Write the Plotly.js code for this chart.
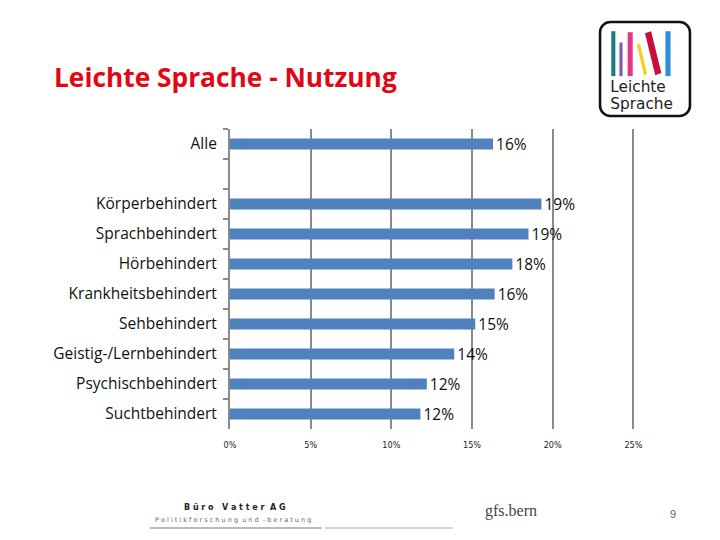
<!DOCTYPE html>
<html>
<head>
<meta charset="utf-8">
<script src="https://cdn.plot.ly/plotly-3.0.1.min.js"></script>
<style>html,body{margin:0;padding:0;background:#fff;}#chart{width:720px;height:540px;}</style>
</head>
<body>
<div id="chart"></div>
<script>
// ---- data ----
const categories = ["Alle", " ", "Körperbehindert", "Sprachbehindert", "Hörbehindert",
  "Krankheitsbehindert", "Sehbehindert", "Geistig-/Lernbehindert", "Psychischbehindert", "Suchtbehindert"];
const values = [16.3, null, 19.3, 18.5, 17.5, 16.4, 15.2, 13.9, 12.2, 11.8];
const valueLabels = ["16%", "", "19%", "19%", "18%", "16%", "15%", "14%", "12%", "12%"];
const xTickValues = [0, 5, 10, 15, 20, 25];
const xTickLabels = ["0%", "5%", "10%", "15%", "20%", "25%"];

// ---- layout geometry helpers ----
const W = 720, H = 540;
const M = {l: 230, r: 85, t: 129, b: 111};
const px = x => (x - M.l) / (W - M.l - M.r);
const py = y => (H - M.b - y) / (H - M.t - M.b);

const logoSvg = `<svg xmlns="http://www.w3.org/2000/svg" width="92" height="96" viewBox="0 0 92 96">
<rect x="2" y="2" width="88" height="92" rx="10" ry="10" fill="#fff" stroke="#111" stroke-width="2.5"/>
<rect x="13" y="11" width="4" height="44" fill="#1b7f78"/>
<rect x="21" y="22" width="3" height="33" fill="#7e5aa8"/>
<rect x="29" y="12" width="5" height="43" fill="#e8358a"/>
<polygon points="38,24 41,23 48,53 45,54" fill="#f3d21a"/>
<polygon points="46,13 52,11 62,52 56,54" fill="#c8103e"/>
<rect x="66" y="11" width="5" height="44" fill="#2a8fd6"/>
<text x="12" y="71" text-anchor="start" font-family="DejaVu Sans, sans-serif" font-size="15" fill="#222">Leichte</text>
<text x="12" y="87" text-anchor="start" font-family="DejaVu Sans, sans-serif" font-size="15" fill="#222">Sprache</text>
</svg>`;
const logoSrc = "data:image/svg+xml;charset=utf-8," + encodeURIComponent(logoSvg);

const trace = {
  type: "bar",
  orientation: "h",
  y: categories,
  x: values,
  text: valueLabels,
  textposition: "outside",
  constraintext: "none",
  cliponaxis: false,
  textfont: {family: "Open Sans, sans-serif", size: 15.5, color: "#111"},
  marker: {color: "#4f81bd"},
  width: 0.36,
  hoverinfo: "skip"
};

const layout = {
  width: W, height: H,
  margin: M,
  paper_bgcolor: "#fff",
  plot_bgcolor: "#fff",
  showlegend: false,
  title: {
    text: "Leichte Sprache - Nutzung",
    font: {family: "Open Sans, sans-serif", size: 26.3, color: "#e30613", weight: "bold"},
    x: 54 / W, xanchor: "left",
    y: 1 - 78 / H, yanchor: "middle"
  },
  xaxis: {
    range: [0, 25.1],
    tickvals: xTickValues,
    ticktext: xTickLabels,
    showgrid: true,
    gridcolor: "#8a8a8a",
    gridwidth: 2,
    zeroline: false,
    showline: false,
    ticks: "",
    ticklabelstandoff: 9,
    tickfont: {family: "DejaVu Sans Condensed, DejaVu Sans, sans-serif", size: 9, color: "#222"},
    fixedrange: true
  },
  yaxis: {
    type: "category",
    categoryorder: "array",
    categoryarray: categories,
    autorange: "reversed",
    showline: true,
    linecolor: "#8a8a8a",
    linewidth: 2,
    ticks: "outside",
    tickson: "boundaries",
    ticklen: 5,
    tickwidth: 2,
    tickcolor: "#8a8a8a",
    showgrid: false,
    tickfont: {family: "Open Sans, sans-serif", size: 15.5, color: "#111"},
    ticklabelstandoff: 8,
    fixedrange: true
  },
  images: [{
    source: logoSrc,
    xref: "paper", yref: "paper",
    x: px(598), y: py(20),
    sizex: px(692) - px(598), sizey: py(20) - py(118),
    xanchor: "left", yanchor: "top",
    sizing: "stretch", layer: "above"
  }],
  shapes: [
    {type: "line", xref: "paper", yref: "paper", x0: px(150), x1: px(322), y0: py(528), y1: py(528),
     line: {color: "#777", width: 1}},
    {type: "line", xref: "paper", yref: "paper", x0: px(325), x1: px(453), y0: py(528), y1: py(528),
     line: {color: "#aaa", width: 1}}
  ],
  annotations: [
    {text: "B ü r o   V a t t e r  A G", xref: "paper", yref: "paper", x: px(235), y: py(507),
     xanchor: "center", yanchor: "middle", showarrow: false,
     font: {family: "DejaVu Sans, sans-serif", size: 8, color: "#222", weight: "bold"}},
    {text: "P o l i t i k f o r s c h u n g  u n d  - b e r a t u n g", xref: "paper", yref: "paper", x: px(233), y: py(520),
     xanchor: "center", yanchor: "middle", showarrow: false,
     font: {family: "DejaVu Sans, sans-serif", size: 6.5, color: "#666"}},
    {text: "gfs.bern", xref: "paper", yref: "paper", x: px(511), y: py(511),
     xanchor: "center", yanchor: "middle", showarrow: false,
     font: {family: "Liberation Serif, serif", size: 16, color: "#444"}},
    {text: "9", xref: "paper", yref: "paper", x: px(673), y: py(514),
     xanchor: "center", yanchor: "middle", showarrow: false,
     font: {family: "Liberation Sans, sans-serif", size: 11, color: "#666"}}
  ]
};

Plotly.newPlot("chart", [trace], layout, {displayModeBar: false, staticPlot: true});
</script>
</body>
</html>
